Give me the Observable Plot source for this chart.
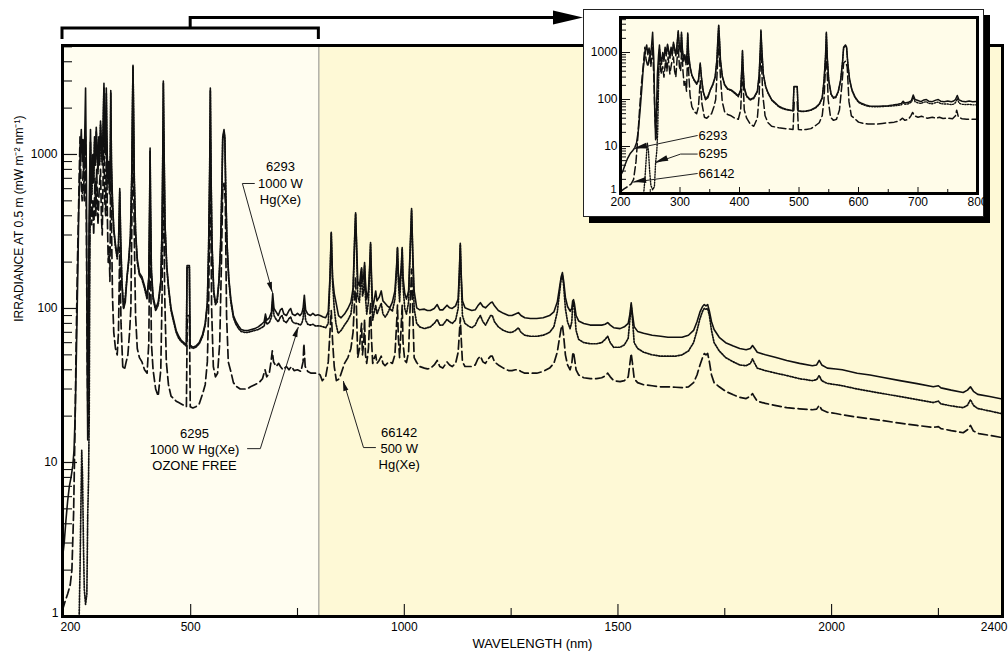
<!DOCTYPE html>
<html><head><meta charset="utf-8">
<script src="https://cdn.jsdelivr.net/npm/d3@7"></script>
<script src="https://cdn.jsdelivr.net/npm/@observablehq/plot@0.6"></script>
<style>
body{margin:0;background:#fff;}
#wrap{position:relative;width:1008px;height:655px;overflow:hidden;}
#main{position:absolute;left:0;top:0;}
#inset{position:absolute;left:583px;top:9px;width:401px;height:208px;background:#fff;border:1px solid #222;box-shadow:6px 6px 0 #000;box-sizing:border-box;}
#inset svg{display:block;}
</style></head><body><div id="wrap"><div id="main"></div><div id="inset"></div></div>
<script>
const FONT = "'Liberation Sans', Arial, Helvetica, sans-serif";

// ---- data: wavelength (nm), irradiance (mW m-2 nm-1) ----
const lamp6293 = [
[200,2.4],[204,3.0],[208,4.2],[212,5.6],[216,7.0],[220,8],[224,9.5],[227,12],[230,22],[233,60],[236,180],[238,420],[240,700],[242,1100],[244,1450],[246,900],[248,1250],[250,800],[252,1300],[254,2700],[256,700],[257.5,60],[259,14],[260.5,60],[262,350],[264,900],[265.5,1450],[267,800],[269,650],[271,1000],[273,700],[275,1300],[277,900],[279,1500],[281,1100],[283,800],[285,1300],[287,900],[289,1650],[291,1200],[293,900],[295,1500],[297,2900],[299,1300],[301,1100],[302.5,2700],[304,1200],[306,700],[308,900],[310,600],[312,1000],[313,2600],[314.5,900],[317,500],[320,330],[324,260],[328,220],[331,260],[334,600],[336,300],[339,150],[343,100],[347,110],[351,160],[355,210],[359,300],[362,700],[363.5,1800],[365,3800],[366.5,1800],[368,700],[371,320],[375,210],[380,170],[386,160],[392,140],[398,120],[402,160],[404,500],[405,1100],[406,500],[408,180],[412,120],[418,100],[424,110],[430,150],[433,330],[435,1200],[436,3000],[437.5,1200],[440,350],[444,190],[448,140],[454,100],[460,85],[466,72],[472,66],[478,62],[484,60],[490,58],[491.5,190],[497,190],[498.5,58],[505,56],[512,57],[520,60],[528,68],[534,80],[539,110],[542,250],[544.5,800],[546,2700],[547.5,800],[550,260],[554,130],[558,110],[562,115],[566,150],[570,260],[573,600],[575,1300],[578,1450],[580,1300],[582,600],[585,270],[589,160],[594,115],[600,90],[606,82],[612,77],[618,73],[626,72],[634,72],[642,73],[650,74],[658,76],[666,79],[672,82],[675,92],[678,84],[684,87],[689,95],[692,125],[695,100],[700,95],[705,90],[710,98],[714,100],[718,92],[724,90],[730,97],[734,100],[738,92],[744,90],[750,93],[756,90],[760,93],[763,100],[766,122],[769,98],[774,92],[780,90],[786,93],[792,90],[798,91],
[803,90],[810,88],[816,87],[822,95],[826,160],[829,312],[832,160],[836,125],[840,110],[846,90],[852,87],[860,92],[868,100],[875,110],[880,135],[884,300],[886,418],[888,280],[891,150],[895,140],[898,170],[900,184],[902,150],[905,160],[907,199],[909,150],[912,115],[916,130],[919,190],[921,268],[923,170],[926,100],[930,115],[933,130],[936,112],[941,118],[946,130],[950,112],[955,108],[960,104],[966,101],[972,110],[978,130],[982,190],[984,249],[986,170],[989,135],[993,190],[995,249],[997,160],[1001,125],[1005,115],[1010,130],[1014,260],[1017,445],[1020,220],[1023,130],[1029,101],[1036,98],[1047,99],[1054,97],[1061,97],[1070,100],[1077,106],[1083,98],[1090,98],[1100,105],[1106,101],[1112,100],[1120,104],[1126,115],[1129,180],[1131,265],[1133,170],[1136,112],[1142,101],[1150,99],[1158,97],[1166,98],[1172,104],[1178,109],[1184,103],[1190,101],[1196,105],[1202,109],[1206,110],[1211,104],[1220,97],[1232,93],[1244,90],[1252,90],[1260,92],[1267,94],[1273,90],[1282,87],[1295,86],[1310,86],[1325,87],[1340,90],[1350,95],[1358,110],[1363,135],[1367,160],[1370,171],[1373,150],[1377,118],[1382,103],[1388,96],[1392,100],[1394,112],[1396,114],[1398,108],[1402,90],[1408,83],[1420,80],[1435,78],[1450,78],[1462,78],[1470,79],[1476,81],[1482,78],[1490,75],[1505,74],[1515,76],[1524,80],[1528,92],[1531,109],[1534,92],[1538,76],[1546,71],[1560,69],[1580,67],[1600,66],[1617,65],[1635,65],[1650,65],[1665,67],[1677,72],[1685,82],[1692,95],[1698,103],[1702,106],[1706,104],[1710,106],[1714,96],[1719,82],[1725,73],[1737,65],[1752,60],[1770,57],[1785,55],[1800,54],[1810,55],[1815,57.5],[1820,55],[1826,52],[1845,50],[1870,48],[1895,46],[1925,44],[1955,42.5],[1965,43],[1971,46],[1977,43],[1990,41],[2010,40.5],[2025,40],[2060,38],[2090,37],[2121,35.6],[2160,34],[2200,32.5],[2238,31],[2244,31.3],[2250,31.5],[2256,30.5],[2280,29.5],[2308,28.5],[2318,29.5],[2325,31],[2332,29],[2342,27.7],[2370,26.8],[2400,25.8]
];
const lamp6295 = [
[239,1.0],[241,2],[243,5],[245,12],[247,8],[249,3],[251,1.5],[254,1.2],[257,1.4],[259,4.5],[261,8],[262.5,20],[264,200],[265.5,1200],[267,700],[269,550],[271,900],[273,650],[275,1200],[277,850],[279,1400],[281,1000],[283,750],[285,1200],[287,850],[289,1550],[291,1100],[293,850],[295,1400],[297,2700],[299,1200],[301,1000],[302.5,2500],[304,1100],[306,650],[308,850],[310,550],[312,950],[313,2500],[314.5,850],[317,480],[320,320],[324,250],[328,210],[331,250],[334,570],[336,290],[339,145],[343,100],[347,120],[351,160],[355,200],[359,290],[362,680],[363.5,1700],[365,3700],[366.5,1700],[368,680],[371,310],[375,200],[380,165],[386,155],[392,135],[398,115],[402,155],[404,480],[405,1050],[406,480],[408,170],[412,115],[418,97],[424,105],[430,145],[433,320],[435,1150],[436,2900],[437.5,1150],[440,340],[444,185],[448,135],[454,97],[460,82],[466,70],[472,64],[478,61],[484,59],[490,57],[491.5,185],[497,185],[498.5,57],[505,55],[512,56],[520,59],[528,66],[534,78],[539,105],[542,240],[544.5,780],[546,2600],[547.5,780],[550,250],[554,125],[558,106],[562,110],[566,145],[570,250],[573,580],[575,1250],[578,1400],[580,1250],[582,580],[585,260],[589,155],[594,110],[600,87],[606,79],[612,74],[618,71],[626,70],[634,70],[642,71],[650,72],[658,73],[666,75],[672,77],[675,86],[678,79],[684,81],[689,88],[692,112],[695,90],[700,85],[705,82],[710,88],[714,90],[718,83],[724,81],[730,86],[734,88],[738,82],[744,80],[750,80],[756,78],[760,80],[763,86],[766,105],[769,84],[774,79],[780,78],[786,79],[792,77],
[803,77],[810,76],[816,75],[822,80],[826,150],[829,307],[832,150],[836,100],[840,80],[845,69],[852,72],[860,78],[868,84],[875,92],[880,120],[884,290],[886,410],[888,260],[891,120],[895,110],[898,150],[900,180],[902,120],[905,130],[907,190],[909,120],[912,92],[916,110],[919,180],[921,260],[923,150],[926,84],[930,96],[933,105],[936,92],[941,100],[946,108],[950,92],[955,88],[960,92],[966,100],[972,96],[978,115],[982,180],[984,245],[986,150],[989,110],[993,180],[995,245],[997,140],[1001,100],[1005,92],[1010,110],[1014,250],[1017,430],[1020,200],[1023,100],[1029,80],[1036,76],[1047,74],[1054,75],[1061,76],[1070,80],[1077,85],[1083,78],[1090,78],[1100,85],[1106,82],[1112,80],[1120,84],[1126,100],[1129,170],[1131,260],[1133,160],[1136,90],[1142,80],[1150,77],[1158,75],[1166,78],[1172,85],[1178,90],[1184,82],[1190,78],[1196,84],[1202,90],[1206,90],[1211,82],[1220,76],[1232,72],[1244,70],[1252,70],[1260,72],[1267,75],[1273,70],[1282,67],[1295,66],[1310,66],[1325,67],[1340,70],[1350,76],[1358,95],[1363,125],[1367,155],[1370,165],[1373,140],[1377,100],[1382,82],[1388,74],[1392,82],[1394,105],[1396,110],[1398,100],[1402,72],[1408,63],[1420,60],[1435,59],[1450,59],[1462,60],[1470,63],[1476,66],[1482,60],[1490,56],[1505,56],[1515,58],[1524,64],[1528,85],[1531,105],[1534,85],[1538,60],[1546,55],[1560,52],[1580,50],[1600,49],[1617,49],[1635,49],[1650,50],[1665,53],[1677,60],[1685,72],[1692,86],[1698,96],[1702,100],[1706,99],[1710,100],[1714,90],[1719,72],[1725,60],[1737,53],[1752,48],[1770,45],[1785,43],[1800,42.5],[1810,44],[1815,47],[1820,44],[1826,41],[1845,39.5],[1870,38],[1895,36.7],[1925,35],[1955,34],[1965,34.5],[1971,36.7],[1977,34],[1990,32.6],[2010,32],[2025,31.5],[2060,30],[2090,29],[2121,28],[2160,26.8],[2200,25.6],[2238,24.5],[2244,24.8],[2250,25],[2256,24],[2280,23.3],[2308,22.7],[2318,23.5],[2325,25.6],[2332,23.5],[2342,22.4],[2370,21.6],[2400,20.7]
];
const lamp66142 = [
[200,1.1],[206,1.25],[212,1.4],[218,1.6],[222,2.0],[226,4.7],[229,15],[232,60],[235,200],[238,500],[241,1300],[243,700],[246,500],[249,900],[251,500],[254,1300],[256,300],[258,40],[260,15],[262,90],[264,500],[266,1000],[268,350],[271,500],[273,300],[276,700],[278,400],[280,800],[283,350],[286,600],[289,800],[291,400],[293,300],[295,700],[297,1400],[299,500],[301,400],[303,1300],[305,400],[307,200],[309,250],[311,150],[313,1200],[315,300],[317,120],[320,70],[324,55],[328,50],[331,70],[334,250],[337,80],[341,42],[345,40],[349,45],[353,50],[357,70],[360,100],[362,300],[365,1800],[368,300],[371,90],[375,55],[380,48],[386,45],[392,40],[398,38],[402,60],[405,500],[408,60],[412,40],[418,30],[424,27],[430,40],[433,120],[436,1400],[439,130],[443,45],[448,32],[454,27],[460,26],[466,25],[472,24.5],[478,24],[484,23.5],[490,23],[492,90],[497,90],[499,23],[505,22.6],[512,23],[520,24],[528,28],[534,32],[539,45],[542,100],[546,1200],[549,100],[553,42],[558,36],[563,38],[568,60],[572,200],[575,600],[578,650],[581,500],[584,90],[588,45],[594,39],[600,33],[608,31],[616,30],[624,30],[632,30],[640,31],[650,32],[660,33],[668,35],[674,40],[678,36],[684,38],[688,45],[691,53],[694,45],[700,42],[706,44],[710,42],[716,40],[724,42],[730,40],[736,42],[742,39.5],[750,40],[758,39],[763,45],[765,59],[768,42],[774,39],[782,38],[790,38],[797,38],
[803,37],[808,34],[816,36],[822,45],[826,70],[829,97],[832,62],[836,42],[841,34],[848,35],[855,40],[860,44],[868,48],[875,55],[880,70],[884,120],[886,160],[888,100],[891,48],[895,55],[898,70],[900,80],[902,50],[905,60],[907,85],[909,50],[912,44],[916,55],[919,85],[921,110],[923,65],[926,44],[930,48],[933,50],[936,44],[941,46],[946,49],[950,44],[955,42.5],[960,44],[966,45],[972,44],[978,50],[982,80],[984,105],[986,65],[989,48],[993,80],[995,105],[997,60],[1001,46],[1005,44.6],[1010,52],[1014,110],[1017,180],[1020,90],[1023,48],[1029,44.6],[1036,42],[1047,41],[1054,40.5],[1061,40.8],[1070,43],[1077,46],[1083,42],[1090,41],[1100,45],[1106,43],[1112,42],[1120,44],[1126,52],[1129,70],[1131,87],[1133,65],[1136,45],[1142,42],[1150,42],[1158,42],[1166,43],[1172,47],[1178,49],[1184,45],[1190,44],[1196,47],[1202,49],[1206,49],[1211,45],[1220,43],[1232,41],[1244,39.5],[1252,39.5],[1260,40],[1267,40],[1273,39],[1282,38],[1295,38],[1310,38],[1325,39],[1340,41],[1350,44],[1358,52],[1363,64],[1367,74],[1370,78],[1373,66],[1377,50],[1382,43],[1388,40],[1392,44],[1394,50],[1396,52],[1398,48],[1402,40],[1408,37],[1420,35.5],[1435,35],[1450,35],[1462,35.5],[1470,36.5],[1476,38],[1482,36],[1490,34],[1505,33.5],[1515,34],[1524,36],[1528,44],[1531,51],[1534,44],[1538,35],[1546,33],[1560,32],[1580,31.5],[1600,31],[1617,31],[1635,30.8],[1650,30.6],[1665,31],[1677,33],[1685,37],[1692,43],[1698,48],[1702,51],[1706,50],[1710,51],[1714,45],[1719,37],[1725,33],[1737,31],[1752,29],[1770,27.5],[1785,26.5],[1800,26],[1810,27],[1815,28],[1820,26.5],[1826,25],[1845,24.2],[1870,23.4],[1895,22.7],[1925,22.3],[1955,22],[1965,22.2],[1971,23.5],[1977,22],[1990,21.2],[2010,20.8],[2025,20.4],[2060,19.7],[2090,19.2],[2121,18.7],[2160,18],[2200,17.4],[2238,16.9],[2244,17.0],[2250,17.1],[2256,16.6],[2280,16.1],[2308,15.6],[2318,16.3],[2325,17.4],[2332,16],[2345,15.4],[2370,15],[2400,14.5]
];

// tick values / labels
const xLabelsMain = [200, 500, 1000, 1500, 2000, 2400];
const xTicksMajor = [500, 1000, 1500, 2000];
const xTicksMinor = [750, 1250, 1750, 2250];
const yLabels = [1, 10, 100, 1000];
const yMinor = [2,3,4,5,6,7,8,9,20,30,40,50,60,70,80,90,200,300,400,500,600,700,800,900,2000,3000,4000,5000];
const xLabelsInset = [200, 300, 400, 500, 600, 700, 800];
const xTicksInsetMajor = [300, 400, 500, 600, 700];
const xTicksInsetMinor = [250, 350, 450, 550, 650, 750];
const insetNames = ["6293", "6295", "66142"];
const mainNotes = ["6293\n1000 W\nHg(Xe)", "6295\n1000 W Hg(Xe)\nOZONE FREE", "66142\n500 W\nHg(Xe)"];
const yTitle = "IRRADIANCE AT 0.5 m (mW m\u207B\u00B2 nm\u207B\u00B9)";
const xTitle = "WAVELENGTH (nm)";

const X = d => d[0], Y = d => d[1];

// ---- main chart ----
const mW = 1008, mH = 655, mL = 62, mR = 6, mT = 45, mB = 39;
const pW = mW - mL - mR, pH = mH - mT - mB;
const leaders = [
  {id: "a", pts: [[649, 648], [621, 648], [691.5, 127]]},
  {id: "b", pts: [[633, 12.3], [663, 12.3], [752, 75.3]]},
  {id: "c", pts: [[932.5, 12.5], [904.5, 12.5], [857.6, 33.6]]}
];
const leaderRows = leaders.flatMap(l => l.pts.map(p => ({id: l.id, x: p[0], y: p[1]})));

const main = Plot.plot({
  width: mW, height: mH, marginLeft: mL, marginRight: mR, marginTop: mT, marginBottom: mB,
  x: {domain: [200, 2400], axis: null},
  y: {type: "log", domain: [1, 5100], axis: null},
  style: {fontFamily: FONT, background: "transparent", overflow: "visible"},
  marks: [
    Plot.rect([{a: 200, b: 800}], {x1: "a", x2: "b", fill: "#fffdf0"}),
    Plot.rect([{a: 800, b: 2400}], {x1: "a", x2: "b", fill: "#fef9d6"}),
    Plot.ruleX([800], {stroke: "#8c8c8c", strokeWidth: 1}),
    Plot.tickY(yLabels, {y: d => d, insetRight: pW - 15, stroke: "#111", strokeWidth: 1.2}),
    Plot.tickY(yMinor, {y: d => d, insetRight: pW - 10, stroke: "#111", strokeWidth: 1.1}),
    Plot.tickX(xTicksMajor, {x: d => d, insetTop: pH - 12, stroke: "#111", strokeWidth: 1.1}),
    Plot.tickX(xTicksMinor, {x: d => d, insetTop: pH - 8, stroke: "#111", strokeWidth: 1.1}),
    Plot.line(lamp66142, {x: X, y: Y, stroke: "#111", strokeWidth: 1.7, strokeDasharray: "9,4", clip: true}),
    Plot.line(lamp6295, {x: X, y: Y, stroke: "#111", strokeWidth: 1.7, strokeDasharray: "1.3,1.5", clip: true}),
    Plot.line(lamp6293, {x: X, y: Y, stroke: "#111", strokeWidth: 1.6, clip: true}),
    Plot.frame({stroke: "#000", strokeWidth: 3}),
    Plot.line(leaderRows, {x: "x", y: "y", z: "id", stroke: "#222", strokeWidth: 1}),
    Plot.text([mainNotes[0]], {x: () => 710, y: () => 658, text: d => d, fontSize: 13, lineHeight: 1.28}),
    Plot.text([mainNotes[1]], {x: () => 509, y: () => 12.3, text: d => d, fontSize: 13, lineHeight: 1.26}),
    Plot.text([mainNotes[2]], {x: () => 988, y: () => 12.5, text: d => d, fontSize: 13, lineHeight: 1.24}),
    Plot.text(xLabelsMain.slice(1, -1), {x: d => d, text: d => String(d), frameAnchor: "bottom", dy: 14, fontSize: 12}),
    Plot.text([xLabelsMain[0]], {x: d => d, text: d => String(d), frameAnchor: "bottom", dy: 14, dx: -2, textAnchor: "start", fontSize: 12}),
    Plot.text([xLabelsMain[xLabelsMain.length - 1]], {x: d => d, text: d => String(d), frameAnchor: "bottom", dy: 14, dx: 5, textAnchor: "end", fontSize: 12}),
    Plot.text(yLabels.slice(1), {y: d => d, text: d => String(d), frameAnchor: "left", textAnchor: "end", dx: -5, fontSize: 12}),
    Plot.text(yLabels.slice(0, 1), {y: d => d, text: d => String(d), frameAnchor: "left", textAnchor: "end", dx: -4, dy: -3, fontSize: 12}),
    Plot.text([xTitle], {text: d => d, frameAnchor: "bottom", dy: 31, fontSize: 13}),
    Plot.text([yTitle], {y: () => 82, text: d => d, frameAnchor: "left", dx: -43, rotate: -90, fontSize: 12})
  ]
});
document.getElementById("main").appendChild(main);

function arrowHead(g, sx, sy, tail, tip, len, hw) {
  const x1 = sx.apply(tail[0]), y1 = sy.apply(tail[1]);
  const x2 = sx.apply(tip[0]), y2 = sy.apply(tip[1]);
  const a = Math.atan2(y2 - y1, x2 - x1);
  const bx = x2 - len * Math.cos(a), by = y2 - len * Math.sin(a);
  const ox = -Math.sin(a) * hw, oy = Math.cos(a) * hw;
  g.append("path").attr("d", `M${x2},${y2}L${bx + ox},${by + oy}L${bx - ox},${by - oy}Z`).attr("fill", "#111");
}
{
  const sx = main.scale("x"), sy = main.scale("y");
  const g = d3.select(main).append("g");
  leaders.forEach(l => arrowHead(g, sx, sy, l.pts[l.pts.length - 2], l.pts[l.pts.length - 1], 10, 2.6));
  // bracket over the 200–800 nm span, with arrow to the inset
  const xa = sx.apply(200), xb = sx.apply(800), xm = sx.apply(500);
  g.append("path").attr("d", `M${xa},39V28H${xb}V39M${xm},28V17.5H556`)
    .attr("fill", "none").attr("stroke", "#000").attr("stroke-width", 3);
  g.append("path").attr("d", "M583,17.5L553,10.5L553,24.5Z").attr("fill", "#000");
}

// ---- inset (200–800 nm) ----
const iW = 399, iH = 206, iL = 36, iR = 6, iT = 7, iB = 23;
const ipW = iW - iL - iR, ipH = iH - iT - iB;
const clip800 = arr => arr.filter(d => d[0] <= 805);
const insetLeaders = [
  {id: "a", pts: [[329, 17.1], [223.5, 8.93]]},
  {id: "b", pts: [[329, 6.9], [301, 6.9], [259, 4.5]]},
  {id: "c", pts: [[329, 2.66], [222, 1.74]]}
];
const insetLeaderRows = insetLeaders.flatMap(l => l.pts.map(p => ({id: l.id, x: p[0], y: p[1]})));
const insetLabelRows = insetNames.map((t, i) => ({t, x: 331, y: [17.1, 6.9, 2.66][i]}));

const inset = Plot.plot({
  width: iW, height: iH, marginLeft: iL, marginRight: iR, marginTop: iT, marginBottom: iB,
  x: {domain: [200, 800], axis: null},
  y: {type: "log", domain: [1, 5560], axis: null},
  style: {fontFamily: FONT, background: "transparent", overflow: "visible"},
  marks: [
    Plot.frame({fill: "#fffce9"}),
    Plot.tickY(yLabels, {y: d => d, insetRight: ipW - 10, stroke: "#111"}),
    Plot.tickY(yMinor, {y: d => d, insetRight: ipW - 6, stroke: "#111"}),
    Plot.tickX(xTicksInsetMajor, {x: d => d, insetTop: ipH - 6, stroke: "#111"}),
    Plot.tickX(xTicksInsetMinor, {x: d => d, insetTop: ipH - 4, stroke: "#111"}),
    Plot.line(clip800(lamp66142), {x: X, y: Y, stroke: "#111", strokeWidth: 1.5, strokeDasharray: "8,3.5", clip: true}),
    Plot.line(clip800(lamp6295), {x: X, y: Y, stroke: "#111", strokeWidth: 1.4, strokeDasharray: "1.2,1.5", clip: true}),
    Plot.line(clip800(lamp6293), {x: X, y: Y, stroke: "#111", strokeWidth: 1.5, clip: true}),
    Plot.frame({stroke: "#000", strokeWidth: 3}),
    Plot.line(insetLeaderRows, {x: "x", y: "y", z: "id", stroke: "#222", strokeWidth: 1}),
    Plot.text(insetLabelRows, {x: "x", y: "y", text: "t", textAnchor: "start", fontSize: 13}),
    Plot.text(xLabelsInset, {x: d => d, text: d => String(d), frameAnchor: "bottom", dy: 12, fontSize: 12}),
    Plot.text(yLabels.slice(1), {y: d => d, text: d => String(d), frameAnchor: "left", textAnchor: "end", dx: -3, fontSize: 12}),
    Plot.text(yLabels.slice(0, 1), {y: d => d, text: d => String(d), frameAnchor: "left", textAnchor: "end", dx: -4, dy: -4, fontSize: 11})
  ]
});
document.getElementById("inset").appendChild(inset);
{
  const sx = inset.scale("x"), sy = inset.scale("y");
  const g = d3.select(inset).append("g");
  insetLeaders.forEach(l => arrowHead(g, sx, sy, l.pts[l.pts.length - 2], l.pts[l.pts.length - 1], 13, 3));
}
</script></body></html>
